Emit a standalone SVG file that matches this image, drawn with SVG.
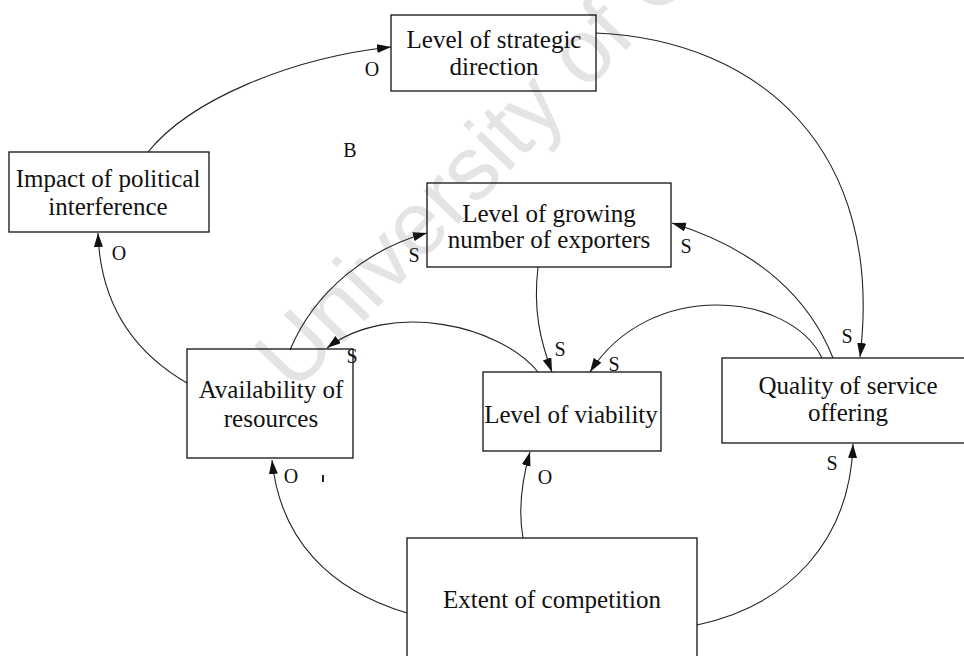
<svg xmlns="http://www.w3.org/2000/svg" width="964" height="656" viewBox="0 0 964 656">
  <style>
    .box { fill: none; stroke: #111; stroke-width: 1.3; }
    .lbl { font-family: "Liberation Serif", "Times New Roman", serif; font-size: 25px; fill: #111; text-anchor: middle; }
    .pol { font-family: "Liberation Serif", "Times New Roman", serif; font-size: 20px; fill: #111; text-anchor: middle; }
    .link { fill: none; stroke: #222; stroke-width: 1.1; }
    .wm { font-family: "Liberation Sans", Arial, sans-serif; font-size: 90px; fill: #e4e4e4; }
  </style>
  <defs>
    <marker id="arrow" markerUnits="userSpaceOnUse" markerWidth="15" markerHeight="10" refX="14" refY="4.5" orient="auto">
      <path d="M0,0 L14,4.5 L0,9 z" fill="#111"/>
    </marker>
  </defs>
  <rect width="964" height="656" fill="#fff"/>

  <!-- background stamp -->
  <text class="wm" x="294" y="394" transform="rotate(-46 294 394)">University of C</text>

  <!-- causal links -->
  <g id="links">
    <path class="link" d="M148,152 C190,100 290,58 391,47" marker-end="url(#arrow)"/>
    <path class="link" d="M596,33 C760,40 885,150 860,357" marker-end="url(#arrow)"/>
    <path class="link" d="M290,350 C315,290 370,248 427,233" marker-end="url(#arrow)"/>
    <path class="link" d="M538,372 C500,325 390,300 327,348" marker-end="url(#arrow)"/>
    <path class="link" d="M538,267 C533,310 540,340 552,372" marker-end="url(#arrow)"/>
    <path class="link" d="M822,358 C790,292 650,278 590,372" marker-end="url(#arrow)"/>
    <path class="link" d="M833,358 C810,300 760,250 672,223" marker-end="url(#arrow)"/>
    <path class="link" d="M187,383 C130,350 100,300 98,233" marker-end="url(#arrow)"/>
    <path class="link" d="M407,613 C330,590 280,540 272,460" marker-end="url(#arrow)"/>
    <path class="link" d="M523,538 C518,510 522,480 530,452" marker-end="url(#arrow)"/>
    <path class="link" d="M697,625 C790,605 850,540 853,444" marker-end="url(#arrow)"/>
  </g>

  <!-- polarity marks -->
  <g id="polarities">
    <text class="pol" x="372" y="76">O</text>
    <text class="pol" x="350" y="157">B</text>
    <text class="pol" x="414" y="262">S</text>
    <text class="pol" x="686" y="253">S</text>
    <text class="pol" x="352" y="363">S</text>
    <text class="pol" x="560" y="356">S</text>
    <text class="pol" x="614" y="371">S</text>
    <text class="pol" x="847" y="343">S</text>
    <text class="pol" x="832" y="470">S</text>
    <text class="pol" x="119" y="260">O</text>
    <text class="pol" x="291" y="483">O</text>
    <text class="pol" x="545" y="484">O</text>
    <line x1="323" y1="475" x2="323" y2="482" stroke="#222" stroke-width="2"/>
  </g>

  <g id="strategic-direction">
    <rect class="box" x="391" y="15" width="205" height="76"/>
    <text class="lbl" x="494" y="48">Level of strategic</text>
    <text class="lbl" x="494" y="75">direction</text>
  </g>

  <g id="political-interference">
    <rect class="box" x="9" y="152" width="200" height="80"/>
    <text class="lbl" x="108" y="187">Impact of political</text>
    <text class="lbl" x="108" y="215">interference</text>
  </g>

  <g id="growing-exporters">
    <rect class="box" x="427" y="183" width="244" height="84"/>
    <text class="lbl" x="549" y="222">Level of growing</text>
    <text class="lbl" x="549" y="248">number of exporters</text>
  </g>

  <g id="resources">
    <rect class="box" x="187" y="349" width="166" height="109"/>
    <text class="lbl" x="271" y="398">Availability of</text>
    <text class="lbl" x="271" y="427">resources</text>
  </g>

  <g id="viability">
    <rect class="box" x="483" y="372" width="178" height="79"/>
    <text class="lbl" x="571" y="423">Level of viability</text>
  </g>

  <g id="service-quality">
    <rect class="box" x="722" y="358" width="252" height="85"/>
    <text class="lbl" x="848" y="394">Quality of service</text>
    <text class="lbl" x="848" y="421">offering</text>
  </g>

  <g id="competition">
    <rect class="box" x="407" y="538" width="290" height="130"/>
    <text class="lbl" x="552" y="608">Extent of competition</text>
  </g>
</svg>
